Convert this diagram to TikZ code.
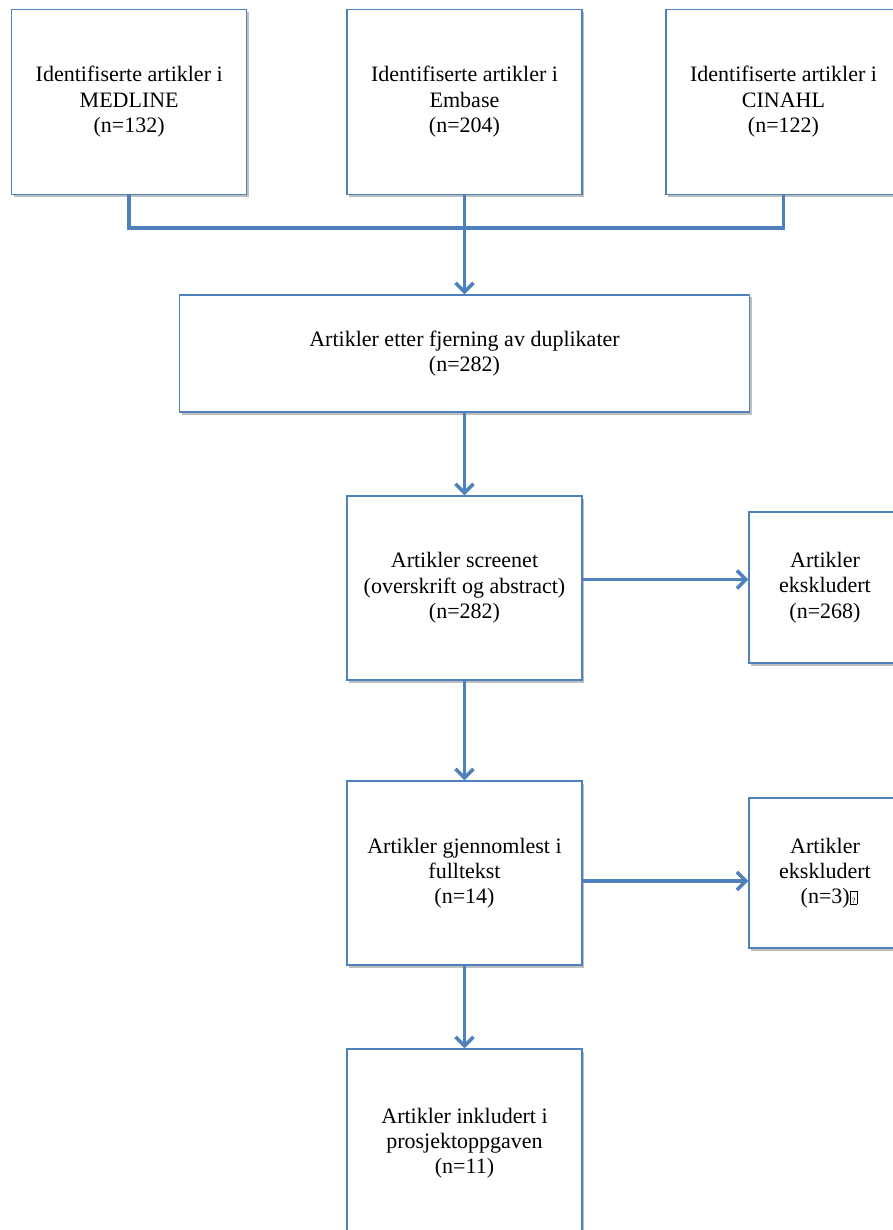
\documentclass[tikz,border=0pt]{standalone}
\usepackage{fontspec}
\setmainfont{Liberation Serif}
\usetikzlibrary{arrows.meta,shadows}
\definecolor{wblue}{HTML}{4F81BD}
\newcommand{\tofubox}{{\setlength\fboxsep{0.4pt}\setlength\fboxrule{0.6pt}\fbox{\rule{0pt}{11.5pt}\makebox[5.5pt]{\fontsize{8}{8}\selectfont ?}}}}
\tikzset{
  boxnode/.style={draw=wblue, line width=1.3pt, fill=white, rectangle,
    align=center, inner sep=2pt,
    font=\fontsize{22}{25.3}\selectfont,
    drop shadow={shadow xshift=2pt, shadow yshift=-2.5pt, opacity=0.25, fill=black}},
  conn/.style={draw=wblue, line width=3.5pt},
  arr/.style={conn, -{Straight Barb[length=9pt,width=18pt]}},
}
\begin{document}
\begin{tikzpicture}[x=1pt,y=-1pt]
\useasboundingbox (0,0) rectangle (893,1230);
\node[boxnode, minimum width=235pt, minimum height=185pt] (b1) at (129.2,101.7)
  {Identifiserte artikler i\\MEDLINE\\(n=132)};
\node[boxnode, minimum width=235pt, minimum height=185pt] (b2) at (464.5,101.7)
  {Identifiserte artikler i\\Embase\\(n=204)};
\node[boxnode, minimum width=235pt, minimum height=185pt] (b3) at (783.5,101.7)
  {Identifiserte artikler i\\CINAHL\\(n=122)};
\node[boxnode, minimum width=570pt, minimum height=117pt] (b4) at (464.5,353.5)
  {Artikler etter fjerning av duplikater\\(n=282)};
\node[boxnode, minimum width=235pt, minimum height=184pt] (b5) at (464.5,588)
  {Artikler screenet\\(overskrift og abstract)\\(n=282)};
\node[boxnode, minimum width=152pt, minimum height=151pt] (e1) at (825,587.5)
  {Artikler\\ekskludert\\(n=268)};
\node[boxnode, minimum width=235pt, minimum height=184pt] (b6) at (464.5,873)
  {Artikler gjennomlest i\\fulltekst\\(n=14)};
\node[boxnode, minimum width=152pt, minimum height=150pt] (e2) at (825,873)
  {Artikler\\ekskludert\\\hspace*{8pt}(n=3)\tofubox};
\node[boxnode, minimum width=235pt, minimum height=188pt] (b7) at (464.5,1143)
  {Artikler inkludert i\\prosjektoppgaven\\(n=11)};
\coordinate (j) at (464.5,228);
\draw[conn] (b1.south) |- (j) -| (b3.south);
\draw[conn] (b2.south) -- (j);
\draw[arr] (j) -- (b4.north);
\draw[arr] (b4.south) -- (b5.north);
\draw[arr] (b5.east |- 0,579.5) -- (e1.west |- 0,579.5);
\draw[arr] (b5.south) -- (b6.north);
\draw[arr] (b6.east |- 0,881) -- (e2.west |- 0,881);
\draw[arr] (b6.south) -- (b7.north);
\end{tikzpicture}
\end{document}
